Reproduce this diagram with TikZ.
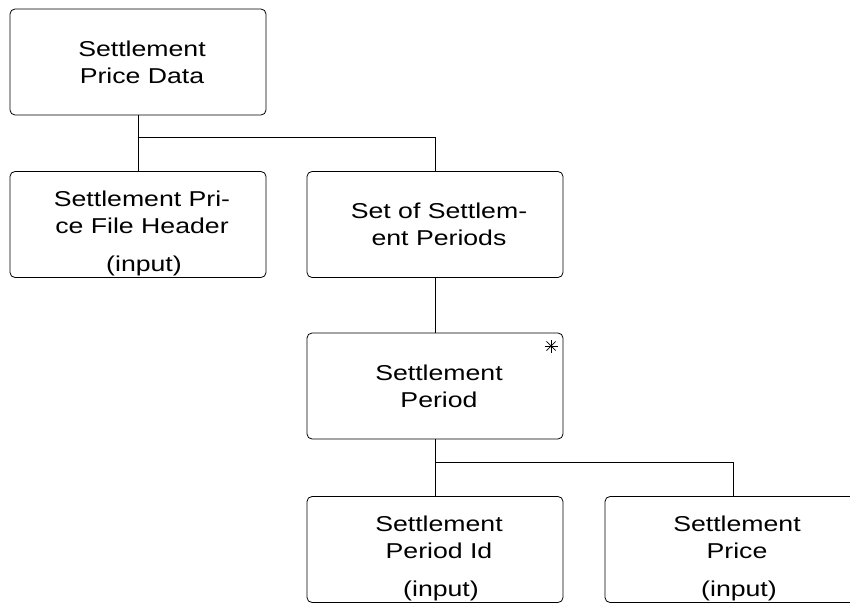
\documentclass[tikz,border=0pt]{standalone}
\usepackage{fontspec}
\setmainfont[FakeStretch=1.24]{Liberation Sans}
\usetikzlibrary{positioning}

\begin{document}
\begin{tikzpicture}[x=1pt, y=-1pt, line width=0.8pt,
        entity/.style={draw, rounded corners=5pt, minimum width=256pt, minimum height=106pt, inner sep=0pt},
        txt/.style={inner sep=0pt, align=center, font=\fontsize{21.5}{27}\selectfont}]
    \clip (0,0) rectangle (850,604);
    % boxes
    \node[entity] (1) at (138,62)    {};
    \node[entity] (2) at (138,224.5) {};
    \node[entity] (3) at (435,224.5) {};
    \node[entity] (4) at (435,386)   {};
    \node[entity] (5) at (435,549.5) {};
    \node[entity] (6) at (733,549.5) {};
    % texts
    \node[txt, anchor=north] (1t) at ([xshift=4pt, yshift=-31.5pt]1.north) {Settlement\\Price Data};
    \node[txt, anchor=north] (2t) at ([xshift=4pt, yshift=-19.5pt]2.north) {Settlement Pri-\\ce File Header};
    \node[txt, anchor=north] (3t) at ([xshift=4pt, yshift=-31.5pt]3.north) {Set of Settlem-\\ent Periods};
    \node[txt, anchor=north] (4t) at ([xshift=4pt, yshift=-31.5pt]4.north) {Settlement\\Period};
    \node[txt, anchor=north] (5t) at ([xshift=4pt, yshift=-19.5pt]5.north) {Settlement\\Period Id};
    \node[txt, anchor=north] (6t) at ([xshift=4pt, yshift=-19.5pt]6.north) {Settlement\\Price};
    \node[txt, anchor=base] (2i) at ([xshift=6pt, yshift=-100pt]2.north) {(input)};
    \node[txt, anchor=base] (5i) at ([xshift=6pt, yshift=-100pt]5.north) {(input)};
    \node[txt, anchor=base] (6i) at ([xshift=6pt, yshift=-100pt]6.north) {(input)};
    % connectors
    \coordinate (j1) at (138,137);
    \coordinate (j2) at (435,462);
    \draw (1) -- (2);
    \draw (j1) -| (3);
    \draw (3) -- (4);
    \draw (4) -- (5);
    \draw (j2) -| (6);
    % multiplicity mark
    \coordinate (m) at (551,346);
    \foreach \a in {0,45,90,135}
        \draw[line width=0.7pt] (m) ++(\a:6.5) -- ++(\a+180:13);
\end{tikzpicture}
\end{document}
